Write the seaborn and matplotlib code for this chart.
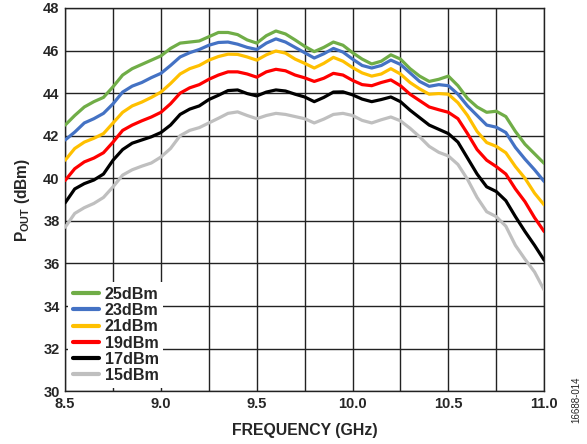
import numpy as np
import pandas as pd
import matplotlib
matplotlib.use("Agg")
import matplotlib.pyplot as plt
from matplotlib.ticker import MultipleLocator
import seaborn as sns

# frequency points (GHz)
freq = [8.50, 8.55, 8.60, 8.65, 8.70, 8.75, 8.80, 8.85, 8.90, 8.95,
        9.00, 9.05, 9.10, 9.15, 9.20, 9.25, 9.30, 9.35, 9.40, 9.45,
        9.50, 9.55, 9.60, 9.65, 9.70, 9.75, 9.80, 9.85, 9.90, 9.95,
        10.00, 10.05, 10.10, 10.15, 10.20, 10.25, 10.30, 10.35, 10.40, 10.45,
        10.50, 10.55, 10.60, 10.65, 10.70, 10.75, 10.80, 10.85, 10.90, 10.95,
        11.00]

pout_25 = [42.5, 42.95, 43.35, 43.6, 43.8, 44.3, 44.85, 45.15, 45.35, 45.55,
           45.75, 46.1, 46.35, 46.4, 46.45, 46.65, 46.85, 46.85, 46.75, 46.5,
           46.35, 46.7, 46.92, 46.78, 46.5, 46.2, 45.95, 46.15, 46.4, 46.25,
           45.9, 45.6, 45.37, 45.5, 45.8, 45.6, 45.15, 44.8, 44.55, 44.65,
           44.8, 44.35, 43.75, 43.35, 43.1, 43.15, 42.9, 42.2, 41.6, 41.15,
           40.7]
pout_23 = [41.8, 42.17, 42.6, 42.8, 43.05, 43.5, 44.05, 44.33, 44.5, 44.73,
           44.93, 45.3, 45.7, 45.9, 46.05, 46.25, 46.38, 46.4, 46.3, 46.15,
           46.05, 46.35, 46.55, 46.4, 46.15, 45.9, 45.65, 45.85, 46.1, 45.93,
           45.6, 45.3, 45.18, 45.3, 45.55, 45.35, 44.95, 44.55, 44.32, 44.4,
           44.35, 43.95, 43.4, 42.95, 42.5, 42.4, 42.15, 41.45, 40.9, 40.4,
           39.85]
pout_21 = [40.85, 41.4, 41.7, 41.88, 42.1, 42.6, 43.1, 43.4, 43.58, 43.8,
           44.05, 44.45, 44.9, 45.15, 45.3, 45.55, 45.72, 45.83, 45.82, 45.7,
           45.55, 45.8, 45.98, 45.88, 45.6, 45.4, 45.18, 45.4, 45.68, 45.5,
           45.2, 44.95, 44.8, 44.9, 45.15, 44.9, 44.5, 44.2, 43.95, 43.98,
           43.95, 43.55, 42.95, 42.2, 41.68, 41.5, 41.2, 40.55, 40.0, 39.3,
           38.75]
pout_19 = [39.9, 40.45, 40.77, 40.95, 41.2, 41.7, 42.25, 42.5, 42.7, 42.88,
           43.1, 43.5, 44.0, 44.25, 44.4, 44.65, 44.85, 45.0, 45.0, 44.9,
           44.75, 45.0, 45.12, 45.05, 44.85, 44.72, 44.55, 44.7, 44.93, 44.85,
           44.6, 44.4, 44.35, 44.5, 44.62, 44.35, 43.95, 43.65, 43.35, 43.22,
           43.1, 42.8, 42.1, 41.35, 40.85, 40.55, 40.2, 39.5, 38.9, 38.15,
           37.5]
pout_17 = [38.85, 39.5, 39.75, 39.92, 40.2, 40.85, 41.35, 41.65, 41.8, 41.95,
           42.15, 42.5, 43.0, 43.25, 43.4, 43.7, 43.9, 44.12, 44.15, 43.98,
           43.87, 44.05, 44.15, 44.1, 43.95, 43.82, 43.6, 43.8, 44.05, 44.06,
           43.92, 43.72, 43.6, 43.7, 43.82, 43.6, 43.2, 42.85, 42.5, 42.3,
           42.1, 41.7, 40.95, 40.2, 39.6, 39.38, 38.95, 38.2, 37.5, 36.85,
           36.15]
pout_15 = [37.7, 38.35, 38.62, 38.82, 39.1, 39.6, 40.15, 40.4, 40.57, 40.72,
           41.0, 41.4, 42.0, 42.25, 42.38, 42.6, 42.82, 43.05, 43.12, 42.95,
           42.8, 42.95, 43.05, 43.0, 42.9, 42.8, 42.6, 42.78, 43.0, 43.05,
           42.95, 42.72, 42.6, 42.75, 42.88, 42.7, 42.35, 41.95, 41.5, 41.22,
           41.05, 40.65, 39.95, 39.1, 38.43, 38.2, 37.75, 36.85, 36.2, 35.6,
           34.75]

labels = ["25dBm", "23dBm", "21dBm", "19dBm", "17dBm", "15dBm"]
colors = ["#70AD47", "#4472C4", "#FFC000", "#FF0000", "#000000", "#BFBFBF"]


def build_frame():
    """Long-form table for seaborn."""
    series = [pout_25, pout_23, pout_21, pout_19, pout_17, pout_15]
    rows = []
    for lab, vals in zip(labels, series):
        rows.append(pd.DataFrame({"freq": freq, "pout": vals, "input": lab}))
    return pd.concat(rows, ignore_index=True)


def main():
    sns.set_style("white")
    plt.rcParams["font.family"] = ["Liberation Sans", "DejaVu Sans"]
    plt.rcParams["mathtext.fontset"] = "custom"
    plt.rcParams["mathtext.rm"] = "Liberation Sans:bold"
    plt.rcParams["mathtext.bf"] = "Liberation Sans:bold"

    df = build_frame()

    fig = plt.figure(figsize=(5.87, 4.44), dpi=100)
    ax = fig.add_axes([0.111, 0.119, 0.816, 0.863])

    sns.lineplot(data=df, x="freq", y="pout", hue="input", hue_order=labels,
                 palette=colors, linewidth=2.3, ax=ax, zorder=3)

    ax.set_xlim(8.5, 11.0)
    ax.set_ylim(30, 48)
    ax.xaxis.set_major_locator(MultipleLocator(0.5))
    ax.xaxis.set_minor_locator(MultipleLocator(0.25))
    ax.yaxis.set_major_locator(MultipleLocator(2))
    ax.set_xticklabels([f"{t:.1f}" for t in ax.get_xticks()])
    ax.grid(True, which="both", color="#222222", linewidth=1.0, zorder=0)
    ax.tick_params(which="both", length=0, labelsize=10.5, pad=4)
    for lab in ax.get_xticklabels() + ax.get_yticklabels():
        lab.set_fontweight("bold")
    for sp in ax.spines.values():
        sp.set_color("#222222")
        sp.set_linewidth(1.0)

    ax.set_xlabel("FREQUENCY (GHz)", fontsize=11.4, fontweight="bold", labelpad=9)
    ax.set_ylabel(r"P$_{\mathrm{OUT}}$ (dBm)", fontsize=11.2, fontweight="bold", labelpad=8)

    leg = ax.legend(loc="lower left", bbox_to_anchor=(0.0, 0.0), fontsize=11.6,
                    handlelength=1.6, handletextpad=0.35, labelspacing=0.08,
                    borderaxespad=0.2, borderpad=0.3, frameon=True, fancybox=False)
    leg.get_frame().set_facecolor("white")
    leg.get_frame().set_edgecolor("none")
    leg.get_frame().set_alpha(1.0)
    leg.set_zorder(5)
    for t in leg.get_texts():
        t.set_fontweight("bold")
    for h in leg.get_lines():
        h.set_linewidth(3.0)

    fig.text(0.982, 0.10, "16688-014", rotation=90, fontsize=7, ha="center", va="center")

    fig.savefig("out.png", dpi=100)


if __name__ == "__main__":
    main()
